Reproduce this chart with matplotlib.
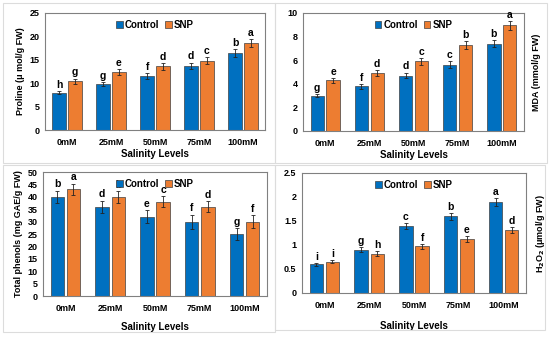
import matplotlib.pyplot as plt
import numpy as np
from matplotlib.patches import Rectangle

plt.rcParams['font.family'] = ['Liberation Sans', 'DejaVu Sans']
plt.rcParams['font.weight'] = 'bold'

levels = ['0mM', '25mM', '50mM', '75mM', '100mM']

proline_ctrl = [8.0, 9.8, 11.5, 13.7, 16.5]
proline_snp = [10.4, 12.4, 13.6, 14.8, 18.6]
proline_ctrl_err = [0.4, 0.5, 0.6, 0.7, 0.8]
proline_snp_err = [0.6, 0.6, 0.7, 0.7, 0.9]
proline_ctrl_let = ['h', 'g', 'f', 'd', 'b']
proline_snp_let = ['g', 'e', 'd', 'c', 'a']

mda_ctrl = [3.0, 3.8, 4.7, 5.6, 7.4]
mda_snp = [4.3, 4.9, 5.9, 7.3, 8.95]
mda_ctrl_err = [0.15, 0.2, 0.25, 0.3, 0.3]
mda_snp_err = [0.2, 0.25, 0.3, 0.35, 0.35]
mda_ctrl_let = ['g', 'f', 'd', 'c', 'b']
mda_snp_let = ['e', 'd', 'c', 'b', 'a']

phen_ctrl = [40, 36, 32, 30, 25]
phen_snp = [43, 40, 38, 36, 30]
phen_ctrl_err = [2.5, 2.5, 2.5, 2.8, 2.3]
phen_snp_err = [2.3, 2.3, 2.3, 2.3, 2.5]
phen_ctrl_let = ['b', 'd', 'e', 'f', 'g']
phen_snp_let = ['a', 'b', 'c', 'd', 'f']

h2o2_ctrl = [0.6, 0.9, 1.4, 1.6, 1.9]
h2o2_snp = [0.65, 0.82, 0.97, 1.12, 1.32]
h2o2_ctrl_err = [0.03, 0.05, 0.06, 0.07, 0.08]
h2o2_snp_err = [0.03, 0.05, 0.05, 0.06, 0.06]
h2o2_ctrl_let = ['i', 'g', 'c', 'b', 'a']
h2o2_snp_let = ['i', 'h', 'f', 'e', 'd']

BLUE = '#0070C0'
ORANGE = '#ED7D31'
W, H = 550, 337

fig = plt.figure(figsize=(5.5, 3.37), dpi=100)


def px_axes(l, r, t, b):
    return fig.add_axes([l / W, (H - b) / H, (r - l) / W, (b - t) / H])


# light panel frames
for (l, r, t, b) in [(3, 275, 3, 163), (275, 547, 3, 163), (3, 275, 165, 332), (275, 545, 165, 330)]:
    fig.patches.append(Rectangle((l / W, (H - b) / H), (r - l) / W, (b - t) / H,
                                 transform=fig.transFigure, fill=False,
                                 edgecolor='#dcdcdc', lw=0.8))


def panel(ax, ctrl, snp, cerr, serr, clet, slet, ymax, step, ylabel, right_label,
          labelpad_x, fmt):
    x = np.arange(len(levels))
    w = 0.3
    off = 0.18
    ax.bar(x - off, ctrl, w, color=BLUE, edgecolor='#404040', lw=0.5, label='Control')
    ax.bar(x + off, snp, w, color=ORANGE, edgecolor='#404040', lw=0.5, label='SNP')
    ax.errorbar(x - off, ctrl, yerr=cerr, fmt='none', ecolor='#222222', elinewidth=0.6, capsize=1.5, capthick=0.6)
    ax.errorbar(x + off, snp, yerr=serr, fmt='none', ecolor='#222222', elinewidth=0.6, capsize=1.5, capthick=0.6)
    for xi, v, e, t in zip(x - off, ctrl, cerr, clet):
        ax.text(xi, v + e + ymax * 0.01, t, ha='center', va='bottom', fontsize=7.5, fontweight='bold')
    for xi, v, e, t in zip(x + off, snp, serr, slet):
        ax.text(xi, v + e + ymax * 0.01, t, ha='center', va='bottom', fontsize=7.5, fontweight='bold')
    ax.set_xlim(-0.5, len(levels) - 0.5)
    ax.set_ylim(0, ymax)
    ticks = np.arange(0, ymax + step / 2, step)
    ax.set_yticks(ticks)
    ax.set_yticklabels([fmt(t) for t in ticks])
    ax.set_xticks(x)
    ax.set_xticklabels(levels)
    ax.tick_params(length=0, labelsize=6.5, pad=4)
    ax.tick_params(axis='x', pad=6)
    for s in ax.spines.values():
        s.set_color('#808080')
        s.set_linewidth(0.8)
    ax.set_xlabel('Salinity Levels', fontsize=7, fontweight='bold', labelpad=labelpad_x)
    if right_label:
        ax.yaxis.set_label_position('right')
        ax.set_ylabel(ylabel, fontsize=6.5, fontweight='bold', labelpad=6)
    else:
        ax.set_ylabel(ylabel, fontsize=6.5, fontweight='bold', labelpad=3)
    ax.legend(loc='upper center', ncol=2, frameon=False, fontsize=7,
              handlelength=0.7, handleheight=0.7, handletextpad=0.2,
              columnspacing=0.6, borderaxespad=0.3)


ax1 = px_axes(45, 265, 13, 130)
panel(ax1, proline_ctrl, proline_snp, proline_ctrl_err, proline_snp_err,
      proline_ctrl_let, proline_snp_let, 25, 5, 'Proline (\u03bc mol/g FW)', False, 1,
      lambda t: f'{t:g}')

ax2 = px_axes(303, 524, 13, 131)
panel(ax2, mda_ctrl, mda_snp, mda_ctrl_err, mda_snp_err,
      mda_ctrl_let, mda_snp_let, 10, 2, 'MDA (mmol/g FW)', True, 1,
      lambda t: f'{t:g}')

ax3 = px_axes(43, 267, 172, 296)
panel(ax3, phen_ctrl, phen_snp, phen_ctrl_err, phen_snp_err,
      phen_ctrl_let, phen_snp_let, 50, 5, 'Total phenols (mg GAE/g FW)', False, 6,
      lambda t: f'{t:g}')

ax4 = px_axes(302, 526, 173, 293)
panel(ax4, h2o2_ctrl, h2o2_snp, h2o2_ctrl_err, h2o2_snp_err,
      h2o2_ctrl_let, h2o2_snp_let, 2.5, 0.5, 'H$_\\mathbf{2}$O$_\\mathbf{2}$ (\u03bcmol/g FW)', True, 8,
      lambda t: f'{t:g}')

fig.savefig('out.png', dpi=100)
